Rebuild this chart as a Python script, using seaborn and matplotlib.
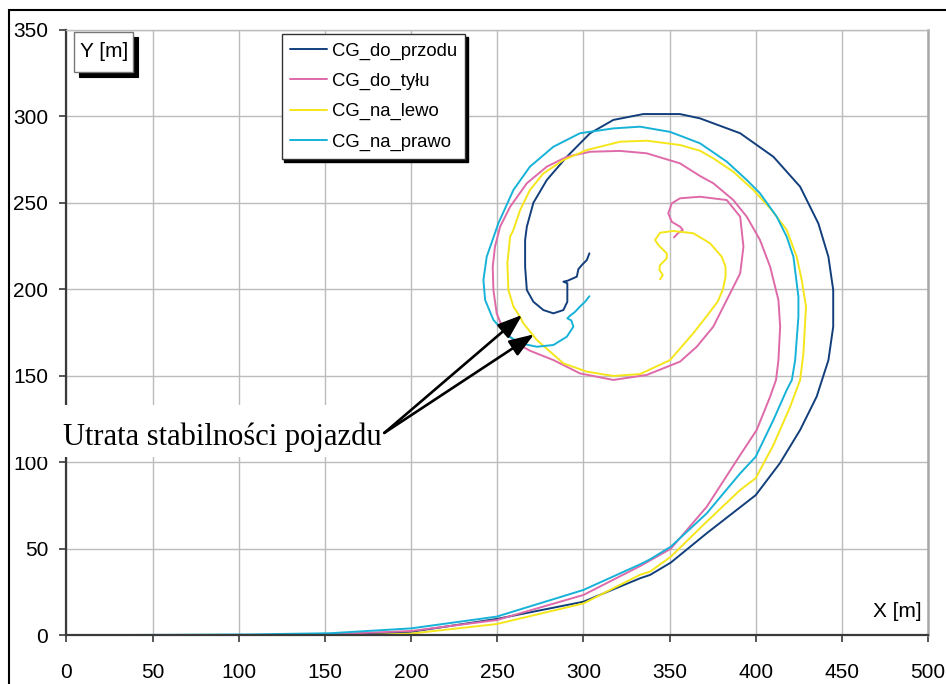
import matplotlib
matplotlib.use("Agg")
import matplotlib.pyplot as plt
import seaborn as sns
import pandas as pd
from matplotlib.patches import Rectangle

# ---------------- data ----------------
series_names = ["CG_do_przodu", "CG_do_tyłu", "CG_na_lewo", "CG_na_prawo"]
series_colors = ["#123f7c", "#de6aa9", "#f5e61c", "#17b2d8"]

x_do_przodu = [0, 159, 180, 200, 250, 300, 333, 338.7, 350.7, 371.6, 400, 414, 425.8, 435.4, 442.2,
               445, 445, 442.2, 436.4, 425.8, 410.3, 391, 367.7, 356, 334.8, 317.4, 303.9, 290.4,
               278.8, 271, 267.2, 266.2, 266.2, 267.2, 271, 276.8, 282.6, 288.4, 290.7, 290.7,
               288.4, 291, 296.2, 297.1, 299.1, 302, 303.5]
y_do_przodu = [0, 0, 1, 2, 9.5, 19.4, 33, 34.9, 42, 59, 81, 99.4, 118.7, 138, 159,
               178.4, 199.6, 218.8, 238, 259.3, 276.6, 290.2, 298.8, 301.3, 301.3, 297.9, 290.2, 276.6,
               263.2, 250, 236.2, 228.5, 213, 199.6, 192.8, 188, 186.1, 188, 192.8, 203.5,
               204.4, 205, 207.3, 211.6, 214, 216.9, 220.8]

x_do_tylu = [0, 106, 153, 200, 249.7, 300, 332.9, 350.7, 371.6, 391, 400.6, 408.4, 411.8, 413.2,
             414.2, 413.2, 408.4, 402.5, 394.8, 387, 375.4, 367.7, 356.1, 336.8, 321.3, 303.9, 290.4,
             278.8, 267.2, 257.5, 251.7, 248.7, 247.4, 247.8, 249.7, 253.6, 261.3, 269, 282.6, 298,
             317.4, 336.8, 356.1, 365.8, 375.4, 383.2, 391, 392.9, 391, 383.2, 367.7, 356.1, 351.3,
             349.3, 351.3, 356.1, 357.7, 355, 352.6]
y_do_tylu = [0, 0, 0.6, 2.5, 8.8, 23.3, 40, 50, 74.3, 104.2, 118.7, 138, 147.6, 159,
             178.4, 193.8, 213, 228.5, 242, 251.6, 261.3, 265.5, 272.8, 278.6, 280, 279.5, 276.6,
             270.9, 261.3, 247.7, 236.2, 224.6, 213, 199.6, 186.1, 176.5, 168.8, 164.5, 159.1, 151.4,
             147.6, 150.5, 158.2, 166.8, 178.4, 193.8, 209.2, 224.6, 242, 251.6, 253.5, 252.6, 249.7,
             243.9, 239, 236.2, 234.3, 232.5, 230]

x_na_lewo = [0, 171, 200, 249.7, 300, 332.9, 338.7, 350.7, 371.6, 391, 400, 410.3, 420, 425.8,
             427.7, 429.2, 426.7, 423.8, 418, 409.3, 398.7, 387, 375.4, 367.7, 356.1, 336.8, 321.3,
             302, 288.4, 276.8, 269, 263.3, 259.4, 257.5, 255.9, 256.5, 259.4, 263.3, 265.2, 273,
             288.4, 302, 317.4, 332.9, 350.3, 363.8, 372, 378, 381, 382.5, 382.5, 380.3, 373.5,
             363.8, 352.2, 344.5, 341.6, 343.5, 348.4, 348.4, 344.5, 344.1, 346.1, 344.5]
y_na_lewo = [0, 0, 1, 6.5, 18.4, 35, 36.8, 45.4, 65.7, 84, 90.8, 110, 132.1, 147.6,
             163, 190, 205.4, 218.8, 234.3, 245.8, 257.4, 268, 275.7, 280.1, 283.4, 285.9, 285.3,
             280.5, 274.7, 267, 257.4, 245.8, 234.3, 230.4, 215, 199.6, 190, 184, 180.3, 170.7,
             157.2, 152.4, 149.9, 151, 159.1, 174.6, 185, 193, 200, 207, 213, 218.8, 226.6,
             232.4, 233.7, 232.7, 228.5, 225.6, 220.8, 217.9, 214, 211.2, 208.3, 205.8]

x_na_prawo = [0, 106, 153, 200, 249.7, 300, 332.9, 338.7, 350.7, 371.6, 391, 400, 410.3, 418, 421,
              422.9, 424.8, 424.8, 421.9, 418, 412.2, 402.5, 394.8, 383.2, 367.7, 350.3, 332.9, 317.4,
              298, 282.6, 269, 259.4, 250.7, 243.9, 242, 243, 247.8, 255.5, 263.3, 273, 282.6, 290.4,
              294.2, 293, 290.7, 292, 295.2, 298, 301, 303.5]
y_na_prawo = [0, 0.5, 1.2, 4, 10.8, 26.2, 41, 43.9, 51.2, 70.5, 93.6, 103.2, 124.5, 141.8, 147.6,
              159, 184.2, 195.7, 218.8, 230.4, 242, 255.5, 263.2, 273.8, 284.4, 291, 294, 293,
              290.2, 282.4, 270.9, 257.4, 238.2, 218.8, 205.4, 193.8, 182.3, 173.6, 168.8, 166.8, 167.8, 172.6,
              178.4, 182, 183.2, 184.5, 187, 190, 192.8, 196]

x_ticks = [0, 50, 100, 150, 200, 250, 300, 350, 400, 450, 500]
y_ticks = [0, 50, 100, 150, 200, 250, 300, 350]

annotation_text = "Utrata stabilności pojazdu"
arrow_tips_x = [264.5, 271.4]
arrow_tips_y = [185.2, 174.0]
arrow_tail = (184.5, 117.0)

# ---------------- figure ----------------
sns.set_theme(style="white")
plt.rcParams['font.family'] = ['Liberation Sans', 'DejaVu Sans']
plt.rcParams['text.color'] = 'black'
plt.rcParams['xtick.color'] = 'black'
plt.rcParams['ytick.color'] = 'black'

W, H = 946, 684
fig = plt.figure(figsize=(W / 100, H / 100), dpi=100)
fig.patch.set_facecolor('white')
ax = fig.add_axes([66.4 / W, 1 - 635.3 / H, (928 - 66.4) / W, (635.3 - 29.8) / H])

xs_all = [x_do_przodu, x_do_tylu, x_na_lewo, x_na_prawo]
ys_all = [y_do_przodu, y_do_tylu, y_na_lewo, y_na_prawo]
frames = []
for name, xs, ys in zip(series_names, xs_all, ys_all):
    frames.append(pd.DataFrame({"X": xs, "Y": ys, "seria": name}))
df = pd.concat(frames, ignore_index=True)

sns.lineplot(data=df, x="X", y="Y", hue="seria", hue_order=series_names,
             palette=dict(zip(series_names, series_colors)),
             sort=False, estimator=None, linewidth=1.4, ax=ax)

ax.set_xlim(0, 500)
ax.set_ylim(0, 350)
ax.set_xticks(x_ticks)
ax.set_yticks(y_ticks)
ax.set_xlabel("")
ax.set_ylabel("")
ax.grid(True, color='#bcbcbc', linewidth=1.0)
ax.set_axisbelow(True)

ax.spines['left'].set_color('#3a3a3a')
ax.spines['left'].set_linewidth(1.6)
ax.spines['bottom'].set_color('#3a3a3a')
ax.spines['bottom'].set_linewidth(1.6)
ax.spines['top'].set_color('#bcbcbc')
ax.spines['top'].set_linewidth(1.0)
ax.spines['right'].set_color('#a8a8a8')
ax.spines['right'].set_linewidth(1.8)

ax.tick_params(axis='both', which='major', direction='out', length=5, width=1.2,
               color='#3a3a3a', labelsize=15, bottom=True, left=True)
ax.tick_params(axis='x', pad=15)
ax.tick_params(axis='y', pad=8)

# X label inside the plot
ax.text(496.4, 14, "X [m]", ha='right', va='center', fontsize=15)

# Y label box with black drop shadow (figure-level patches)
bx0, bx1, by0, by1 = 74, 133.3, 31.7, 71.7
fig.add_artist(Rectangle(((bx0 + 4.5) / W, 1 - (by1 + 5) / H), (bx1 - bx0) / W, (by1 - by0) / H,
                         transform=fig.transFigure, fc='black', ec='black', lw=0.8, zorder=3))
fig.add_artist(Rectangle((bx0 / W, 1 - by1 / H), (bx1 - bx0) / W, (by1 - by0) / H,
                         transform=fig.transFigure, fc='white', ec='#777777', lw=1.0, zorder=4))
fig.text((bx0 + bx1) / 2 / W, 1 - (by0 + by1) / 2 / H, "Y [m]", ha='center', va='center',
         fontsize=15, color='black', zorder=6)

# legend
handles, labels = ax.get_legend_handles_labels()
leg = ax.legend(handles, labels, loc='upper left',
                bbox_to_anchor=(281.7 / W, 1 - 34 / H), bbox_transform=fig.transFigure,
                fontsize=13.3, frameon=True, fancybox=False,
                shadow={'color': 'black', 'alpha': 1},
                edgecolor='#333333', framealpha=1, borderpad=0.45,
                handlelength=2.0, handletextpad=0.25, labelspacing=0.72, borderaxespad=0)
leg.get_frame().set_linewidth(1.0)
for line in leg.get_lines():
    line.set_linewidth(1.4)

# annotation arrows
for tx, ty in zip(arrow_tips_x, arrow_tips_y):
    ax.annotate("", xy=(tx, ty), xytext=arrow_tail, annotation_clip=False,
                arrowprops=dict(arrowstyle='-|>,head_length=0.75,head_width=0.27',
                                mutation_scale=20, lw=1.9, color='black',
                                shrinkA=0, shrinkB=0), zorder=8)

# white box + text for annotation (figure level, drawn over axes)
fig.add_artist(Rectangle((12 / W, 1 - 457 / H), (381 - 12) / W, (457 - 405) / H,
                         transform=fig.transFigure, fc='white', ec='none', zorder=5))
fig.text(63 / W, 1 - 445 / H, annotation_text, family=['Liberation Serif', 'DejaVu Serif'],
         fontsize=22, ha='left', va='baseline', color='black', zorder=6)

# outer frame
fig.add_artist(Rectangle((9 / W, -0.5), 2.0, 1 - 10 / H + 0.5, transform=fig.transFigure,
                         fill=False, ec='black', lw=1.5, zorder=10))

fig.savefig("out.png", dpi=100, facecolor='white')
